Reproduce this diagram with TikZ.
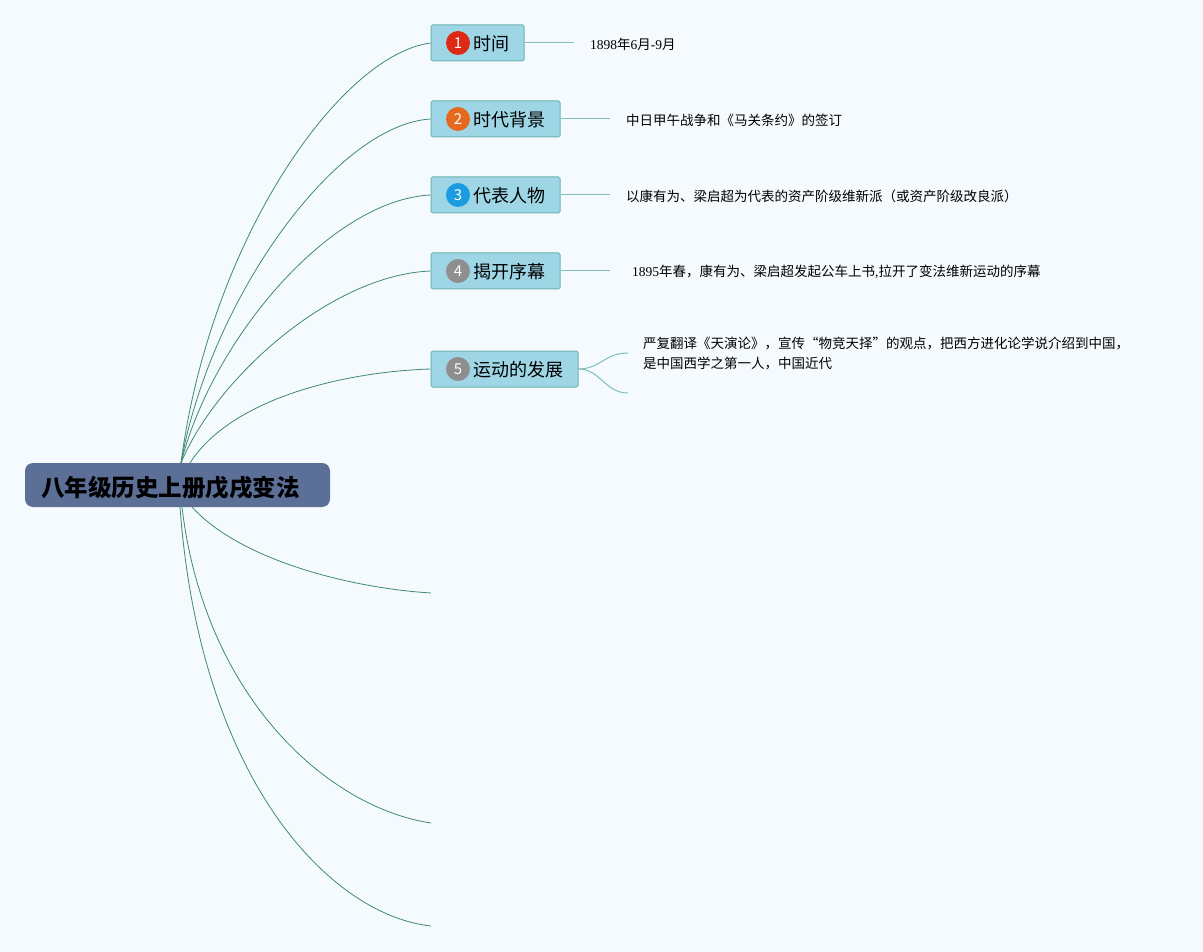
\documentclass[tikz,border=0pt]{standalone}
\usepackage{fontspec}
\newfontfamily\cjk{Noto Sans CJK SC}
\newfontfamily\lat{Liberation Serif}
\begin{document}
\begin{tikzpicture}[x=1pt,y=-1pt,
  topic/.style={draw=boxline,fill=boxfill,line width=1pt,rectangle,rounded corners=1.5pt,inner sep=0pt,minimum height=36pt},
  num/.style={circle,inner sep=0pt,minimum size=24pt,text=white,font=\cjk\fontsize{15}{15}\selectfont},
  ttxt/.style={anchor=west,inner sep=0pt,font=\cjk\fontsize{18}{18}\selectfont},
  leaf/.style={anchor=west,inner sep=0pt,font=\cjk\fontsize{13.5}{13.5}\selectfont},
  conn/.style={draw=linegreen,line width=0.8pt},
  lconn/.style={draw=leafline,line width=1pt}]
\definecolor{bg}{HTML}{F5FAFE}
\definecolor{boxfill}{HTML}{9ED6E6}
\definecolor{boxline}{HTML}{6DB3B3}
\definecolor{rootfill}{HTML}{5B6F97}
\definecolor{linegreen}{HTML}{3E8A6E}
\definecolor{leafline}{HTML}{7FBDB8}
\definecolor{nred}{HTML}{DD2A14}
\definecolor{norange}{HTML}{E5691F}
\definecolor{nblue}{HTML}{1C9CE0}
\definecolor{ngray}{HTML}{8E8E8E}
\fill[bg] (0,0) rectangle (1203,952);
\useasboundingbox (0,0) rectangle (1203,952);

% root
\node[fill=rootfill,rounded corners=8pt,minimum width=305pt,minimum height=44pt,inner sep=0pt] (root) at (177.5,485) {};
\node[anchor=west,inner sep=0pt,font=\cjk\bfseries\fontsize{23.5}{23.5}\selectfont] (roottxt) at (41,488) {八年级历史上册戊戌变法};

% topics
\node[topic,minimum width=93pt] (t1) at (477.5,43) {};
\node[topic,minimum width=129pt] (t2) at (495.5,119) {};
\node[topic,minimum width=129pt] (t3) at (495.5,195) {};
\node[topic,minimum width=129pt] (t4) at (495.5,271) {};
\node[topic,minimum width=147pt] (t5) at (504.5,369) {};

\node[num,fill=nred] (n1) at (458,43) {1};
\node[num,fill=norange] (n2) at (458,119) {2};
\node[num,fill=nblue] (n3) at (458,195) {3};
\node[num,fill=ngray] (n4) at (458,271) {4};
\node[num,fill=ngray] (n5) at (458,369) {5};

\node[ttxt] (l1) at (473,44) {时间};
\node[ttxt] (l2) at (473,120) {时代背景};
\node[ttxt] (l3) at (473,196) {代表人物};
\node[ttxt] (l4) at (473,272) {揭开序幕};
\node[ttxt] (l5) at (473,370) {运动的发展};

% root connectors
\coordinate (s1) at (181,463);
\coordinate (s5) at (190,463);
\coordinate (b1) at (192,507);
\coordinate (b2) at (182,507);
\coordinate (b3) at (180,507);
\coordinate (e6) at (431,593);
\coordinate (e7) at (431,823);
\coordinate (e8) at (431,926);
\draw[conn] (s1) .. controls (210,240) and (340,55) .. (t1.west);
\draw[conn] (s1) .. controls (210,300) and (335,125) .. (t2.west);
\draw[conn] (s1) .. controls (212,340) and (330,200) .. (t3.west);
\draw[conn] (s1) .. controls (215,380) and (330,275) .. (t4.west);
\draw[conn] (s5) .. controls (230,400) and (340,372) .. (t5.west);
\draw[conn] (b1) .. controls (240,560) and (350,588) .. (e6);
\draw[conn] (b2) .. controls (205,700) and (330,808) .. (e7);
\draw[conn] (b3) .. controls (200,780) and (330,915) .. (e8);

% leaves
\coordinate (c1) at (574,43);
\coordinate (c2) at (610,119);
\coordinate (c3) at (610,195);
\coordinate (c4) at (610,271);
\coordinate (c5a) at (628,353);
\coordinate (c5b) at (628,393);
\draw[lconn] (t1.east) -- (c1);
\draw[lconn] (t2.east) -- (c2);
\draw[lconn] (t3.east) -- (c3);
\draw[lconn] (t4.east) -- (c4);
\draw[lconn] (t5.east) .. controls (600,369) and (605,353) .. (c5a);
\draw[lconn] (t5.east) .. controls (600,369) and (605,393) .. (c5b);

\node[leaf] (d1) at (590,44) {{\lat 1898}年{\lat 6}月{\lat -9}月};
\node[leaf] (d2) at (626,120) {中日甲午战争和《马关条约》的签订};
\node[leaf] (d3) at (626,196) {以康有为、梁启超为代表的资产阶级维新派（或资产阶级改良派）};
\node[leaf] (d4) at (632,272) {{\lat 1895}年春，康有为、梁启超发起公车上书{\lat ,}拉开了变法维新运动的序幕};
\node[leaf,align=left,anchor=north west] (d5) at (643,337) {严复翻译《天演论》，宣传“物竞天择”的观点，把西方进化论学说介绍到中国，\\[6pt]是中国西学之第一人，中国近代};
\end{tikzpicture}
\end{document}
